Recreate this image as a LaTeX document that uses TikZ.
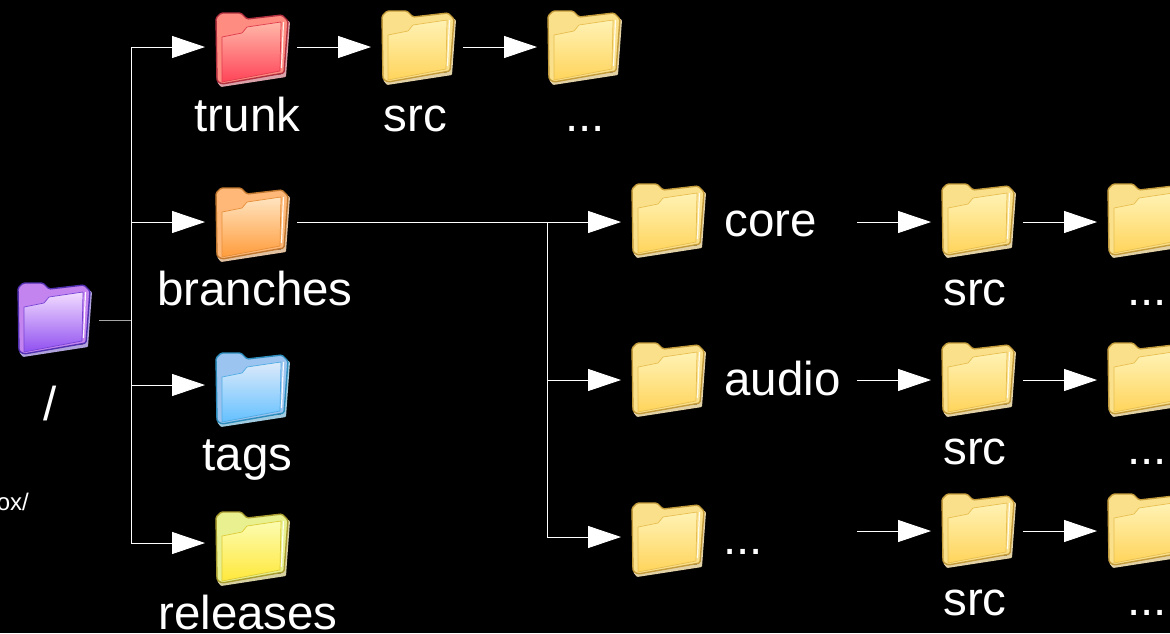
\documentclass[tikz,border=0pt]{standalone}
\usepackage{fontspec}
\setmainfont{Liberation Sans}
\usetikzlibrary{arrows.meta}
\tikzset{
  x=1pt,y=-1pt,
  anchorbox/.style={inner sep=0pt,outer sep=0pt,minimum width=75pt,minimum height=10pt},
  lbl/.style={text=white,font=\fontsize{47.5pt}{50pt}\selectfont,anchor=base,inner sep=0pt},
  smalllbl/.style={text=white,font=\fontsize{24pt}{26pt}\selectfont,anchor=base east,inner sep=0pt},
  conn/.style={draw=white,line width=0.9pt},
  tip/.style={-{Triangle[length=33pt,width=22pt,fill=white,color=white]}},
  flow/.style={conn,tip,shorten <=7pt,shorten >=10pt},
  branch/.style={conn,tip,shorten >=10pt},
  stub/.style={conn,draw=white!65!black}
}
% name, left, top, arrow y, back, front top, front bottom, border
\newcommand{\folder}[8]{%
  \node[anchorbox] (#1) at (#2+37.5,#4) {};
  \begin{scope}[shift={(#2,#3)}]
    \fill[white!55!#8,rounded corners=1pt] (2,70) -- (6,75) -- (71,65) -- (75,10) -- (72,8) -- (68,62) -- cycle;
    \fill[#5,draw=#8,line width=1.4pt,line join=round,rounded corners=1.5pt] (1,6) -- (6,1) -- (26,1) -- (32,7) -- (67,3) -- (73,9) -- (69,61) -- (7,72) -- (2,69) -- cycle;
    \shade[top color=#6,bottom color=#7,draw=#8!40!#7,line width=0.7pt,line join=round] (7,25) -- (27,21) -- (32,15) -- (66,10) -- (65,59) -- (7,70) -- cycle;
    \draw[white!75!#6,line width=1.2pt] (68.5,10) -- (66.5,56);
  \end{scope}}
\begin{document}
\begin{tikzpicture}
\useasboundingbox (0,0) rectangle (1170,633);
\fill[black] (0,0) rectangle (1170,633);
\clip (0,0) rectangle (1170,633);
\definecolor{ybk}{HTML}{FBE08C}\definecolor{yt}{HTML}{FFF2B4}\definecolor{yb}{HTML}{FFD45C}\definecolor{ybd}{HTML}{C49C3C}
\definecolor{rbk}{HTML}{FF8C80}\definecolor{rt}{HTML}{FFB8A8}\definecolor{rb}{HTML}{FF4458}\definecolor{rbd}{HTML}{B03040}
\definecolor{obk}{HTML}{FFB878}\definecolor{ot}{HTML}{FFE4C0}\definecolor{ob}{HTML}{FF9C3C}\definecolor{obd}{HTML}{C07830}
\definecolor{bbk}{HTML}{9CC4F0}\definecolor{bt}{HTML}{DCEAFA}\definecolor{bb}{HTML}{64C0FF}\definecolor{bbd}{HTML}{2C8CBC}
\definecolor{pbk}{HTML}{E8F090}\definecolor{pt}{HTML}{FCFCB0}\definecolor{pb}{HTML}{FFE83C}\definecolor{pbd}{HTML}{A89C30}
\definecolor{vbk}{HTML}{C484F0}\definecolor{vt}{HTML}{F2DCFF}\definecolor{vb}{HTML}{9050F0}\definecolor{vbd}{HTML}{5030B0}

\folder{root}{17}{282}{320}{vbk}{vt}{vb}{vbd}
\folder{trunk}{215}{12}{47}{rbk}{rt}{rb}{rbd}
\folder{trunksrc}{381}{10}{47}{ybk}{yt}{yb}{ybd}
\folder{trunkmore}{547}{10}{47}{ybk}{yt}{yb}{ybd}
\folder{branches}{215}{187}{222}{obk}{ot}{ob}{obd}
\folder{tags}{215}{352}{385}{bbk}{bt}{bb}{bbd}
\folder{releases}{215}{511}{543}{pbk}{pt}{pb}{pbd}
\folder{core}{631}{183}{222}{ybk}{yt}{yb}{ybd}
\folder{audio}{631}{342}{380}{ybk}{yt}{yb}{ybd}
\folder{other}{631}{502}{537}{ybk}{yt}{yb}{ybd}
\folder{coresrc}{941}{183}{222}{ybk}{yt}{yb}{ybd}
\folder{coremore}{1107}{183}{222}{ybk}{yt}{yb}{ybd}
\folder{audiosrc}{941}{342}{380}{ybk}{yt}{yb}{ybd}
\folder{audiomore}{1107}{342}{380}{ybk}{yt}{yb}{ybd}
\folder{othersrc}{941}{493}{531}{ybk}{yt}{yb}{ybd}
\folder{othermore}{1107}{493}{531}{ybk}{yt}{yb}{ybd}

\node[lbl] (ltrunk) at (247.5,131) {trunk};
\node[lbl] (lsrc) at (415.5,131) {src};
\node[lbl] (lmore) at (585,131) {...};
\node[lbl] (lbranches) at (255,305) {branches};
\node[lbl] (ltags) at (247.5,470) {tags};
\node[lbl] (lreleases) at (248,629) {releases};
\node[lbl] (lroot) at (50,420) {/};
\node[smalllbl] (lox) at (29,510) {ox/};
\node[lbl] (lcore) at (771,236) {core};
\node[lbl] (laudio) at (782.5,395) {audio};
\node[lbl] (lother) at (743,554) {...};
\node[lbl] (s1) at (975,305) {src};
\node[lbl] (s2) at (975,464) {src};
\node[lbl] (s3) at (975,615) {src};
\node[lbl] (m1) at (1147,305) {...};
\node[lbl] (m2) at (1147,464) {...};
\node[lbl] (m3) at (1147,615) {...};

\coordinate (jr) at (131,320);
\coordinate (jb) at (547,222);
\coordinate (corefrom) at (850,222);
\coordinate (otherfrom) at (850,531);
\draw[stub] (root.east) ++(7,0) -- (jr);
\draw[branch] (jr) |- (trunk.west);
\draw[branch] (jr) |- (branches.west);
\draw[branch] (jr) |- (tags.west);
\draw[branch] (jr) |- (releases.west);
\draw[flow] (trunk.east) -- (trunksrc.west);
\draw[flow] (trunksrc.east) -- (trunkmore.west);
\draw[flow] (branches.east) -- (core.west);
\draw[branch] (jb) |- (audio.west);
\draw[branch] (jb) |- (other.west);
\draw[flow] (corefrom) -- (coresrc.west);
\draw[flow] (coresrc.east) -- (coremore.west);
\draw[branch] (laudio.east |- audio.east) ++(16,0) -- (audiosrc.west);
\draw[flow] (audiosrc.east) -- (audiomore.west);
\draw[flow] (otherfrom) -- (othersrc.west);
\draw[flow] (othersrc.east) -- (othermore.west);
\end{tikzpicture}
\end{document}
